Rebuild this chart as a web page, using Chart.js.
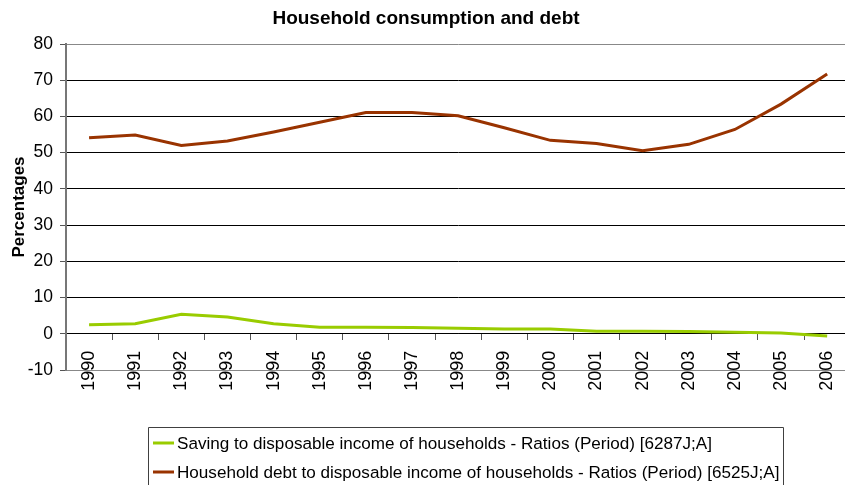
<!DOCTYPE html>
<html>
<head>
<meta charset="utf-8">
<script src="https://cdn.jsdelivr.net/npm/chart.js@4.4.1/dist/chart.umd.min.js"></script>
<style>
  html, body { margin: 0; padding: 0; background: #fff; overflow: hidden; }
  #wrap { width: 860px; height: 485px; }
</style>
</head>
<body>
<div id="wrap"><canvas id="c" width="860" height="485"></canvas></div>
<script>
// Years on the category axis
const years = ['1990','1991','1992','1993','1994','1995','1996','1997','1998',
               '1999','2000','2001','2002','2003','2004','2005','2006'];

// Saving to disposable income of households (%)
const savingRatio = [2.5, 2.8, 5.4, 4.6, 2.8, 1.8, 1.8, 1.7, 1.5,
                     1.3, 1.3, 0.7, 0.7, 0.6, 0.4, 0.2, -0.6];

// Household debt to disposable income of households (%)
const debtRatio = [54.1, 54.9, 52.0, 53.2, 55.7, 58.4, 61.1, 61.1, 60.2,
                   56.9, 53.4, 52.5, 50.5, 52.3, 56.4, 63.4, 71.7];

const seriesLabels = [
  'Saving to disposable income of households - Ratios (Period) [6287J;A]',
  'Household debt to disposable income of households - Ratios (Period) [6525J;A]'
];

const yMin = -10, yMax = 80, yStep = 10;

const FONT = '"Liberation Sans", Arial, sans-serif';

// Boxed legend drawn under the plot
const boxedLegend = {
  id: 'boxedLegend',
  afterDraw(chart) {
    const ctx = chart.ctx;
    const left = 148.5, top = 427.5, right = 783.5;
    ctx.save();
    ctx.strokeStyle = '#404040';
    ctx.lineWidth = 1;
    ctx.beginPath();
    ctx.moveTo(left, chart.height + 2);
    ctx.lineTo(left, top);
    ctx.lineTo(right, top);
    ctx.lineTo(right, chart.height + 2);
    ctx.stroke();
    ctx.font = '17.1px ' + FONT;
    ctx.textBaseline = 'middle';
    ctx.fillStyle = '#000';
    const rows = [443, 472];
    chart.data.datasets.forEach((ds, i) => {
      const y = rows[i];
      ctx.strokeStyle = ds.borderColor;
      ctx.lineWidth = 3;
      ctx.beginPath();
      ctx.moveTo(153, y);
      ctx.lineTo(174, y);
      ctx.stroke();
      ctx.fillText(ds.label, 177, y + 1);
    });
    ctx.restore();
  }
};

new Chart(document.getElementById('c'), {
  type: 'line',
  data: {
    labels: years,
    datasets: [
      {
        label: seriesLabels[0],
        data: savingRatio,
        borderColor: '#99CC00',
        borderWidth: 3,
        pointRadius: 0,
        tension: 0,
        fill: false
      },
      {
        label: seriesLabels[1],
        data: debtRatio,
        borderColor: '#993300',
        borderWidth: 3,
        pointRadius: 0,
        tension: 0,
        fill: false
      }
    ]
  },
  options: {
    responsive: false,
    animation: false,
    layout: { padding: { left: 0, right: 8, top: 0, bottom: 115 } },
    plugins: {
      legend: { display: false },
      tooltip: { enabled: false },
      title: {
        display: true,
        text: 'Household consumption and debt',
        color: '#000',
        font: { family: FONT, size: 19, weight: 'bold' },
        padding: { top: 7, bottom: 14.2 }
      }
    },
    scales: {
      x: {
        type: 'category',
        position: { y: 0 },
        offset: true,
        afterFit(s) { s.height = 0; },
        grid: {
          offset: true,
          drawOnChartArea: false,
          drawTicks: true,
          tickLength: 6,
          tickColor: '#555',
          lineWidth: 1
        },
        border: { display: true, color: '#000', width: 1 },
        ticks: {
          autoSkip: false,
          minRotation: 90,
          maxRotation: 90,
          padding: 11,
          color: '#000',
          font: { family: FONT, size: 18 }
        }
      },
      y: {
        min: yMin,
        max: yMax,
        afterFit(s) { s.width = 66; },
        grid: {
          color: (c) => (c.tick && (c.tick.value === yMax || c.tick.value === yMin)) ? '#888' : '#000',
          lineWidth: 1,
          tickLength: 6,
          tickColor: '#555'
        },
        border: { display: true, color: '#777', width: 2 },
        ticks: {
          stepSize: yStep,
          padding: 7,
          color: '#000',
          font: { family: FONT, size: 17.5 }
        },
        title: {
          display: true,
          text: 'Percentages',
          color: '#000',
          font: { family: FONT, size: 17, weight: 'bold' },
          padding: { top: 9, bottom: 0 }
        }
      }
    }
  },
  plugins: [boxedLegend]
});
</script>
</body>
</html>
